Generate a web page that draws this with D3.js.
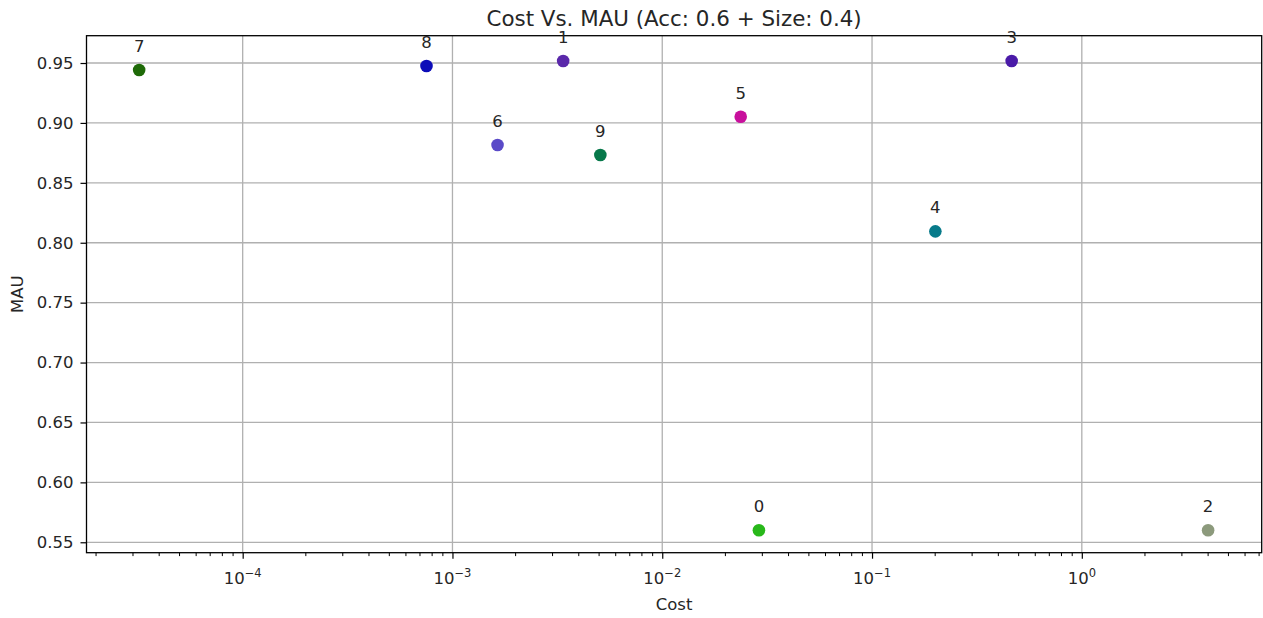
<!DOCTYPE html>
<html>
<head>
<meta charset="utf-8">
<script src="https://cdn.jsdelivr.net/npm/d3@7"></script>
<style>
  html, body { margin: 0; padding: 0; background: #fff; }
  svg { display: block; font-family: "DejaVu Sans", sans-serif; }
</style>
</head>
<body>
<svg id="chart" width="1263" height="618"></svg>
<script>
// Configuration points: id, cost, MAU, colour
const ids    = ["0", "1", "2", "3", "4", "5", "6", "7", "8", "9"];
const costs  = [0.0289, 0.00337, 4.0, 0.463, 0.2004, 0.02366, 0.00164, 0.0000321, 0.000752, 0.00507];
const maus   = [0.560, 0.9517, 0.560, 0.9517, 0.8095, 0.9052, 0.8816, 0.9442, 0.9475, 0.8732];
const colors = ["#28b81a", "#5a28aa", "#8c9a7c", "#4a1aa8", "#077a8a", "#c8109c", "#5a4ac8", "#1e6a08", "#0c0cb8", "#07784a"];

const yTicks = [0.55, 0.60, 0.65, 0.70, 0.75, 0.80, 0.85, 0.90, 0.95];
const xExponents = [-4, -3, -2, -1, 0];

const margin = { left: 86.5, right: 1261.7, top: 35.7, bottom: 552.7 };
const fs = 16.5;

const svg = d3.select("#chart");

const x = d3.scaleLog()
  .domain([Math.pow(10, -4.7445), Math.pow(10, 0.8575)])
  .range([margin.left, margin.right]);

const y = d3.scaleLinear()
  .domain([0.5413, 0.9728])
  .range([margin.bottom, margin.top]);

const gridColor = "#b0b0b0";

// grid lines
const grid = svg.append("g");
grid.selectAll("line.gx")
  .data(xExponents)
  .join("line")
  .attr("x1", d => x(Math.pow(10, d))).attr("x2", d => x(Math.pow(10, d)))
  .attr("y1", margin.top).attr("y2", margin.bottom)
  .attr("stroke", gridColor).attr("stroke-width", 1.3);
grid.selectAll("line.gy")
  .data(yTicks)
  .join("line")
  .attr("x1", margin.left).attr("x2", margin.right)
  .attr("y1", d => y(d)).attr("y2", d => y(d))
  .attr("stroke", gridColor).attr("stroke-width", 1.3);

// minor ticks for the log axis
const minorVals = [];
for (let e = -5; e <= 0; e++) {
  for (let m = 2; m <= 9; m++) {
    const v = m * Math.pow(10, e);
    if (v >= x.domain()[0] && v <= x.domain()[1]) minorVals.push(v);
  }
}
svg.append("g").selectAll("line")
  .data(minorVals)
  .join("line")
  .attr("x1", d => x(d)).attr("x2", d => x(d))
  .attr("y1", margin.bottom).attr("y2", margin.bottom + 3.4)
  .attr("stroke", "#000").attr("stroke-width", 1);

// x axis major ticks
const xAxis = d3.axisBottom(x)
  .tickValues(xExponents.map(e => Math.pow(10, e)))
  .tickSize(6)
  .tickFormat("");
const gx = svg.append("g")
  .attr("transform", `translate(0,${margin.bottom})`)
  .call(xAxis);
gx.select(".domain").remove();
gx.selectAll(".tick line").attr("stroke-width", 1.2);

// x tick labels with superscript exponents
const xl = svg.append("g").selectAll("text")
  .data(xExponents)
  .join("text")
  .attr("x", d => x(Math.pow(10, d)))
  .attr("y", 584)
  .attr("text-anchor", "middle")
  .attr("font-size", fs)
  .attr("fill", "#262626");
xl.append("tspan").text("10");
xl.append("tspan")
  .attr("dy", -7)
  .attr("font-size", 11.5)
  .text(d => d < 0 ? "\u2212" + Math.abs(d) : String(d));

// y axis
const yAxis = d3.axisLeft(y)
  .tickValues(yTicks)
  .tickSize(6)
  .tickPadding(7)
  .tickFormat(d3.format(".2f"));
const gy = svg.append("g")
  .attr("transform", `translate(${margin.left},0)`)
  .call(yAxis);
gy.select(".domain").remove();
gy.selectAll(".tick line").attr("stroke-width", 1.2);
gy.selectAll(".tick text")
  .attr("font-size", fs)
  .attr("font-family", "DejaVu Sans, sans-serif")
  .attr("fill", "#262626");

// plot frame
svg.append("rect")
  .attr("x", margin.left).attr("y", margin.top)
  .attr("width", margin.right - margin.left)
  .attr("height", margin.bottom - margin.top)
  .attr("fill", "none")
  .attr("stroke", "#000")
  .attr("stroke-width", 1.3);

// points
const pts = ids.map((id, i) => ({ id, cost: costs[i], mau: maus[i], color: colors[i] }));
svg.append("g").selectAll("circle")
  .data(pts)
  .join("circle")
  .attr("cx", d => x(d.cost))
  .attr("cy", d => y(d.mau))
  .attr("r", 6.3)
  .attr("fill", d => d.color);

// point labels
svg.append("g").selectAll("text")
  .data(pts)
  .join("text")
  .attr("x", d => x(d.cost))
  .attr("y", d => y(d.mau) - 18)
  .attr("text-anchor", "middle")
  .attr("font-size", fs)
  .attr("fill", "#262626")
  .text(d => d.id);

// title and axis labels
svg.append("text")
  .attr("x", (margin.left + margin.right) / 2)
  .attr("y", 25.5)
  .attr("text-anchor", "middle")
  .attr("font-size", 21.4)
  .attr("fill", "#262626")
  .text("Cost Vs. MAU (Acc: 0.6 + Size: 0.4)");

svg.append("text")
  .attr("x", (margin.left + margin.right) / 2)
  .attr("y", 610)
  .attr("text-anchor", "middle")
  .attr("font-size", fs)
  .attr("fill", "#262626")
  .text("Cost");

svg.append("text")
  .attr("transform", `translate(23,${(margin.top + margin.bottom) / 2}) rotate(-90)`)
  .attr("text-anchor", "middle")
  .attr("font-size", fs)
  .attr("fill", "#262626")
  .text("MAU");
</script>
</body>
</html>
